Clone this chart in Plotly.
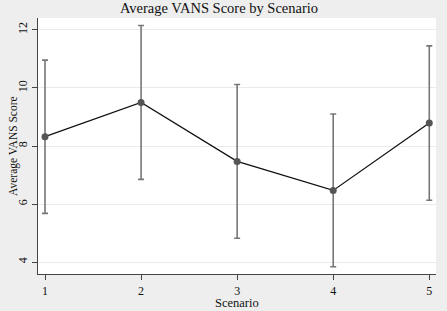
import plotly.graph_objects as go

scenarios = [1, 2, 3, 4, 5]
mean_scores = [8.32, 9.50, 7.47, 6.47, 8.79]
ci_half = [2.64, 2.65, 2.65, 2.63, 2.66]
y_ticks = [4, 6, 8, 10, 12]

font_family = "Liberation Serif, Times New Roman, serif"

fig = go.Figure()
fig.add_trace(go.Scatter(
    x=scenarios, y=mean_scores, mode="lines+markers",
    line=dict(color="#111111", width=1.3),
    marker=dict(color="#555555", size=7),
    error_y=dict(type="data", array=ci_half, visible=True,
                 color="#777777", thickness=1.6, width=3),
    showlegend=False,
))

fig.update_layout(
    width=447, height=311,
    margin=dict(l=38, r=11, t=18, b=37),
    paper_bgcolor="#eeeeee", plot_bgcolor="#ffffff",
    font=dict(family=font_family, color="#111111", size=12),
    title=dict(text="Average VANS Score by Scenario", x=0.49, xref="container",
               xanchor="center", y=0.99, yref="container", yanchor="top",
               font=dict(size=14.5, family=font_family, color="#111111")),
    xaxis=dict(range=[0.927, 5.07], tickvals=scenarios, ticktext=[str(s) for s in scenarios],
               showgrid=False, zeroline=False, showline=True, linecolor="#444444",
               linewidth=1.3, ticks="outside", ticklen=5, tickcolor="#444444",
               automargin=False, tickfont=dict(size=12)),
    yaxis=dict(range=[3.59, 12.41], tickvals=y_ticks, ticktext=[str(v) for v in y_ticks],
               tickangle=-90, showgrid=True, gridcolor="#eaeaea", gridwidth=1.2,
               zeroline=False, showline=True, linecolor="#444444", linewidth=1.3,
               ticks="outside", ticklen=5, tickcolor="#444444",
               automargin=False, tickfont=dict(size=12)),
    annotations=[
        dict(text="Scenario", xref="paper", yref="paper", x=0.5, y=0,
             xanchor="center", yanchor="middle", yshift=-29, showarrow=False,
             font=dict(size=12.5, family=font_family, color="#111111")),
        dict(text="Average VANS Score", xref="paper", yref="paper", x=0, y=0.5,
             xanchor="center", yanchor="middle", xshift=-25, textangle=-90,
             showarrow=False,
             font=dict(size=11.5, family=font_family, color="#111111")),
    ],
)

fig.write_html(
    "out.html",
    config={"displayModeBar": False},
    post_script="document.body.style.margin='0';document.body.style.background='#eeeeee';",
)
